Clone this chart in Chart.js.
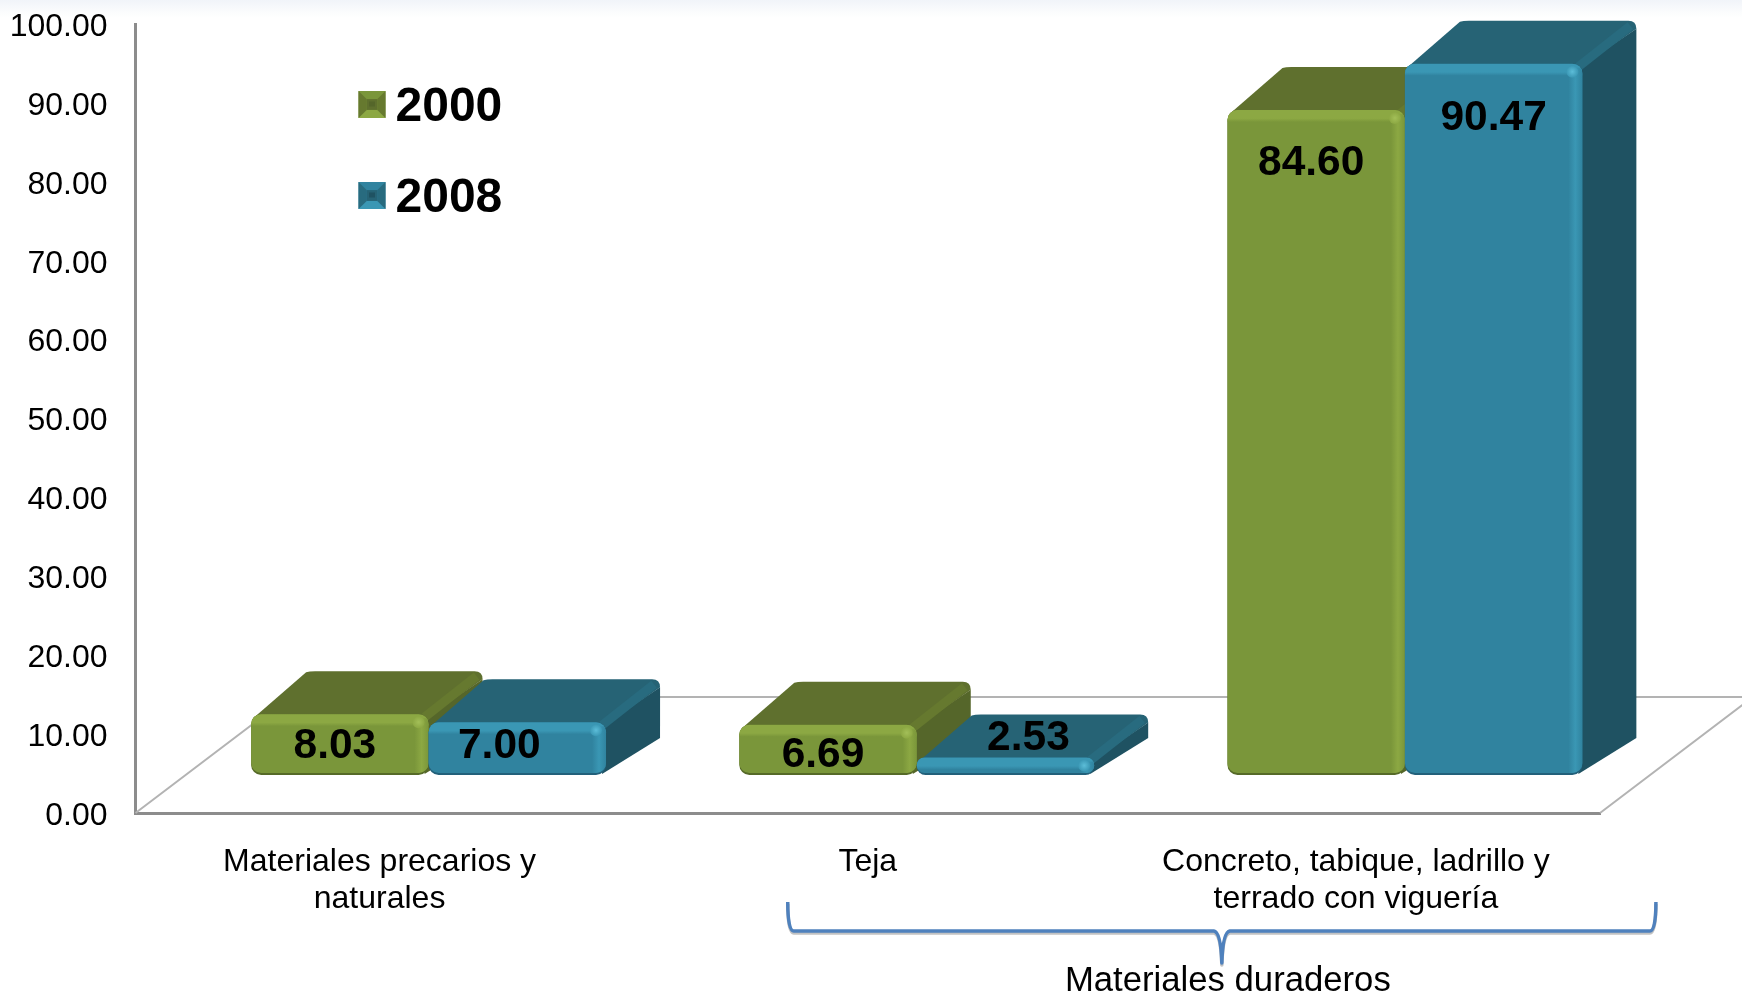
<!DOCTYPE html>
<html>
<head>
<meta charset="utf-8">
<style>
html,body{margin:0;padding:0;background:#fff;}
body{width:1742px;height:994px;overflow:hidden;background:linear-gradient(#f1f4f9 0,#fbfcfd 12px,#fff 18px) no-repeat;}
canvas{display:block;}
</style>
<script src="https://cdn.jsdelivr.net/npm/chart.js@4"></script>
</head>
<body>
<canvas id="c" width="1742" height="994"></canvas>
<script>
const categories = [["Materiales precarios y","naturales"],["Teja"],["Concreto, tabique, ladrillo y","terrado con viguería"]];
const seriesNames = ["2000","2008"];
const values2000 = [8.03,6.69,84.60];
const values2008 = [7.00,2.53,90.47];
const yTickMax = 100;
const yTickStep = 10;
const bracketLabel = "Materiales duraderos";

const FONT = '"Liberation Sans", Arial, sans-serif';
const DEPTH_X = 54, DEPTH_Y = 43, SHIFT_X = 49, SHIFT_Y = 38, TOP_INSET = 2.5;
const FLOOR_DX = 153, FLOOR_DY = 116;
const GREEN = '#7a963a', BLUE = '#30839f';
const faces = {
  [GREEN]: {front:'#7a963a', hi:'#8ca843', lo:'#566a28', top:'#5f702e', side:'#55662a', ridge:'#66792f', spot:'#a3bf58'},
  [BLUE]:  {front:'#30839f', hi:'#3a97b4', lo:'#22607a', top:'#266375', side:'#1f5262', ridge:'#286b7f', spot:'#5cbdd8'}
};
/* per-bar nudges of the value labels, relative to the top of the bar's front face */
const labelNudge = [
  [[-5,32],[-5,31],[-5,53]],
  [[-18,24],[23,-19],[0,55]]
];

function poly(ctx,pts,fill){
  ctx.beginPath();
  pts.forEach((p,i)=> i?ctx.lineTo(p[0],p[1]):ctx.moveTo(p[0],p[1]));
  ctx.closePath();
  ctx.fillStyle=fill;
  ctx.fill();
}

function paintBar(ctx,el){
  const f = faces[el.options.backgroundColor];
  const L = el.x - el.width/2 + SHIFT_X, R = el.x + el.width/2 + SHIFT_X;
  const T = el.y - SHIFT_Y + TOP_INSET, B = el.base - SHIFT_Y;
  const h = B - T, r = Math.min(10, h/2);
  ctx.save();
  ctx.lineJoin='round';
  // side
  poly(ctx,[[R-4,T+4],[R+DEPTH_X,T-DEPTH_Y+8],[R+DEPTH_X,B-DEPTH_Y+6],[R-4,B-1]],f.side);
  // top
  ctx.beginPath();
  ctx.moveTo(L+2,T+4);
  ctx.lineTo(L+DEPTH_X+1,T-DEPTH_Y+1);
  ctx.quadraticCurveTo(L+DEPTH_X+4,T-DEPTH_Y,L+DEPTH_X+10,T-DEPTH_Y);
  ctx.lineTo(R+DEPTH_X-8,T-DEPTH_Y);
  ctx.quadraticCurveTo(R+DEPTH_X,T-DEPTH_Y,R+DEPTH_X,T-DEPTH_Y+8);
  ctx.lineTo(R-4,T+6);
  ctx.closePath();
  ctx.fillStyle=f.top;
  ctx.fill();
  // bevel ridge between top and side
  ctx.beginPath();
  ctx.moveTo(R-4,T+3);
  ctx.lineTo(R+DEPTH_X-6,T-DEPTH_Y+5);
  ctx.strokeStyle=f.ridge;
  ctx.lineWidth=9;
  ctx.stroke();
  // front
  ctx.beginPath();
  ctx.roundRect(L,T,R-L,h,r);
  ctx.fillStyle=f.lo;
  ctx.fill();
  ctx.beginPath();
  ctx.roundRect(L,T,R-L,h-2,r);
  ctx.fillStyle=f.front;
  ctx.fill();
  ctx.save();
  ctx.clip();
  if(h>14){
    const tb=ctx.createLinearGradient(0,T,0,T+12);
    tb.addColorStop(0,f.hi); tb.addColorStop(0.7,f.hi); tb.addColorStop(1,f.front);
    ctx.fillStyle=tb;
    ctx.fillRect(L,T,R-L,12);
    const rb=ctx.createLinearGradient(R-14,0,R,0);
    rb.addColorStop(0,f.front); rb.addColorStop(0.5,f.hi); rb.addColorStop(1,f.front);
    ctx.fillStyle=rb;
    ctx.fillRect(R-14,T+4,14,h);
    const g=ctx.createRadialGradient(R-10,T+8,0,R-10,T+8,6);
    g.addColorStop(0,f.spot);
    g.addColorStop(1,f.hi);
    ctx.fillStyle=g;
    ctx.beginPath();
    ctx.arc(R-10,T+8,6,0,Math.PI*2);
    ctx.fill();
  }
  ctx.restore();
  ctx.restore();
}

/* the library walks datasets last-to-first; the elements are queued here and painted left to right */
let barQueue = [];
Chart.BarElement.prototype.draw = function(){ barQueue.push(this); };

/* the reference's y tick labels sit slightly lower than a canvas "middle" baseline */
const computeItems = Chart.LinearScale.prototype._computeLabelItems;
Chart.LinearScale.prototype._computeLabelItems = function(area){
  const items = computeItems.call(this, area);
  items.forEach(it => { it.options.translation[1] += 3; });
  return items;
};

const floorPlugin = {
  id:'floor',
  beforeDatasetsDraw(chart){
    const {ctx,chartArea:a}=chart;
    const y0=chart.scales.y.getPixelForValue(0);
    ctx.save();
    ctx.strokeStyle='#b3b3b3';
    ctx.lineWidth=2;
    ctx.beginPath();
    ctx.moveTo(a.left,y0); ctx.lineTo(a.left+FLOOR_DX,y0-FLOOR_DY);
    ctx.lineTo(a.right+FLOOR_DX,y0-FLOOR_DY); ctx.lineTo(a.right,y0);
    ctx.stroke();
    ctx.restore();
  }
};

function swatch(ctx,x,y,s,f){
  const i=s*0.3, m=s/2;
  ctx.fillStyle=f.front; ctx.fillRect(x,y,s,s);
  poly(ctx,[[x,y],[x+s,y],[x+s-i,y+i],[x+i,y+i]],f.front);
  poly(ctx,[[x,y+s],[x+s,y+s],[x+s-i,y+s-i],[x+i,y+s-i]],f.hi);
  poly(ctx,[[x,y],[x,y+s],[x+i,y+s-i],[x+i,y+i]],f.ridge);
  poly(ctx,[[x+s,y],[x+s,y+s],[x+s-i,y+s-i],[x+s-i,y+i]],f.ridge);
  ctx.fillStyle=f.top; ctx.fillRect(x+i,y+i,s-2*i,s-2*i);
  ctx.fillStyle=f.side; ctx.fillRect(x+m-3,y+m-3,6,5);
}

const overlayPlugin = {
  id:'overlay',
  afterDatasetsDraw(chart){
    const {ctx,chartArea:a}=chart;
    barQueue.slice().sort((p,q)=>p.x-q.x).forEach(el=>paintBar(ctx,el));
    barQueue = [];
    // value labels
    ctx.save();
    ctx.font='bold 42.5px '+FONT;
    ctx.fillStyle='#000';
    ctx.textAlign='center';
    ctx.textBaseline='middle';
    chart.data.datasets.forEach((ds,d)=>{
      chart.getDatasetMeta(d).data.forEach((el,i)=>{
        const n=labelNudge[d][i];
        ctx.fillText(ds.data[i].toFixed(2), el.x+SHIFT_X+n[0], el.y-SHIFT_Y+TOP_INSET+n[1]);
      });
    });
    // legend
    const sw=[96,187];
    chart.data.datasets.forEach((ds,d)=>{
      swatch(ctx,a.left+223,sw[d]-5,27,faces[ds.backgroundColor]);
      ctx.font='bold 48px '+FONT;
      ctx.textAlign='left';
      ctx.fillStyle='#000';
      ctx.fillText(ds.label,a.left+260,sw[d]+12);
    });
    // bracket
    const xs=chart.scales.x;
    const x1=xs.getPixelForValue(1)-80, x2=xs.getPixelForValue(2)+300, mid=(x1+x2)/2;
    ctx.lineJoin='round';
    const path=()=>{
      ctx.beginPath();
      ctx.moveTo(x1,902);
      ctx.quadraticCurveTo(x1,931,x1+6,931);
      ctx.lineTo(mid-8,931);
      ctx.quadraticCurveTo(mid-1,932,mid,963);
      ctx.quadraticCurveTo(mid+1,932,mid+8,931);
      ctx.lineTo(x2-6,931);
      ctx.quadraticCurveTo(x2,931,x2,902);
    };
    ctx.strokeStyle='rgba(120,120,120,0.45)';
    ctx.lineWidth=3.5;
    ctx.save(); ctx.translate(0,2); path(); ctx.stroke(); ctx.restore();
    ctx.strokeStyle='#4f81bd';
    path(); ctx.stroke();
    ctx.font='34.7px '+FONT;
    ctx.textAlign='center';
    ctx.fillStyle='#000';
    ctx.fillText(bracketLabel,mid+6,981);
    ctx.restore();
  }
};

function noScalePadding(s){ s.paddingTop=0; s.paddingBottom=0; s.paddingLeft=0; s.paddingRight=0; }

new Chart(document.getElementById('c'),{
  type:'bar',
  data:{
    labels:categories,
    datasets:[
      {label:seriesNames[0],data:values2000,backgroundColor:GREEN},
      {label:seriesNames[1],data:values2008,backgroundColor:BLUE}
    ]
  },
  options:{
    responsive:false,
    animation:false,
    layout:{padding:{top:24,right:142,left:0,bottom:0}},
    datasets:{bar:{barPercentage:1,categoryPercentage:0.727}},
    plugins:{legend:{display:false},tooltip:{enabled:false},title:{display:false}},
    scales:{
      x:{
        grid:{display:false,drawTicks:false},
        border:{color:'#8c8c8c',width:3},
        ticks:{color:'#000',font:{family:FONT,size:32,lineHeight:1.17},padding:30,maxRotation:0,autoSkip:false},
        afterFit(s){s.height=181; noScalePadding(s);}
      },
      y:{
        min:0,max:yTickMax,
        grid:{display:false,drawTicks:false},
        border:{color:'#8c8c8c',width:3},
        ticks:{stepSize:yTickStep,color:'#000',font:{family:FONT,size:32},padding:28,callback:v=>v.toFixed(2)},
        afterFit(s){s.width=135.5; noScalePadding(s);}
      }
    }
  },
  plugins:[floorPlugin,overlayPlugin]
});
</script>
</body>
</html>
